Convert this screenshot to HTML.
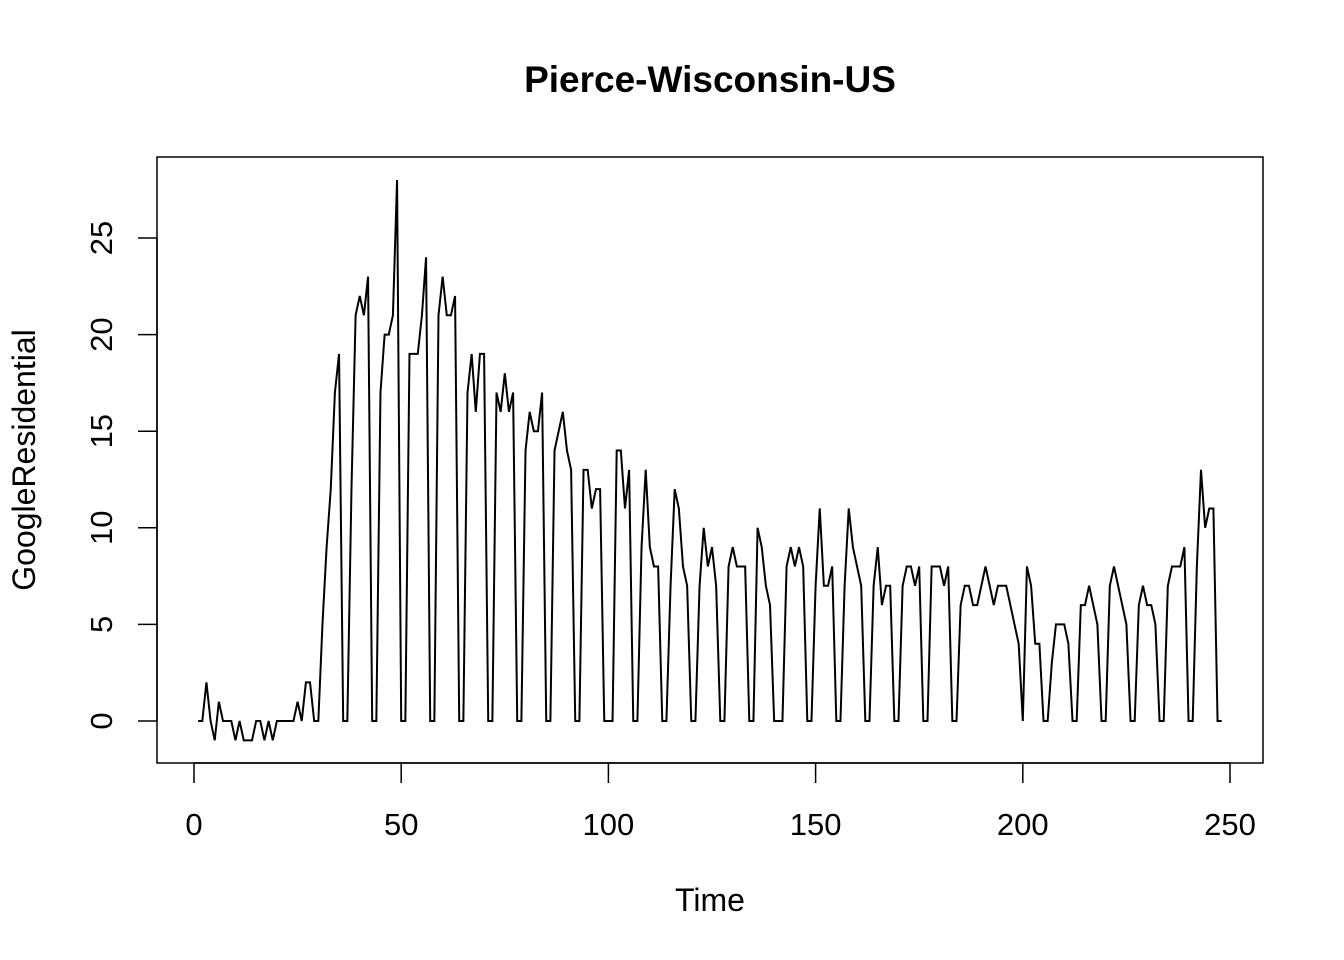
<!DOCTYPE html>
<html><head><meta charset="utf-8"><style>
html,body{margin:0;padding:0;background:#fff}
svg{display:block;font-family:"Liberation Sans",Arial,sans-serif}
</style></head><body>
<svg id="chart" width="1344" height="960" viewBox="0 0 1344 960">
<text x="710" y="92" text-anchor="middle" font-size="37" font-weight="bold">Pierce-Wisconsin-US</text>
<rect x="157" y="157" width="1106" height="606" fill="none" stroke="#000" stroke-width="1.5"/>
<g id="xaxis"></g>
<g id="yaxis"></g>
<text x="710" y="911" text-anchor="middle" font-size="32">Time</text>
<text transform="translate(35,460) rotate(-90)" text-anchor="middle" font-size="32">GoogleResidential</text>
<path id="series" fill="none" stroke="#000" stroke-width="2"/>
</svg>
<script>
const xTicks=[0,50,100,150,200,250];
const yTicks=[0,5,10,15,20,25];
const values=[0,0,2,0,-1,1,0,0,0,-1,0,-1,-1,-1,0,0,-1,0,-1,0,0,0,0,0,1,0,2,2,0,0,
5,9,12,17,19,0,0,12,21,22,21,23,0,0,17,20,20,21,28,0,0,19,19,19,21,24,0,0,21,23,
21,21,22,0,0,17,19,16,19,19,0,0,17,16,18,16,17,0,0,14,16,15,15,17,0,0,14,15,16,14,
13,0,0,13,13,11,12,12,0,0,0,14,14,11,13,0,0,9,13,9,8,8,0,0,7,12,11,8,7,0,0,7,10,8,
9,7,0,0,8,9,8,8,8,0,0,10,9,7,6,0,0,0,8,9,8,9,8,0,0,7,11,7,7,8,0,0,7,11,9,8,7,0,0,
7,9,6,7,7,0,0,7,8,8,7,8,0,0,8,8,8,7,8,0,0,6,7,7,6,6,7,8,7,6,7,7,7,6,5,4,0,8,7,4,4,
0,0,3,5,5,5,4,0,0,6,6,7,6,5,0,0,7,8,7,6,5,0,0,6,7,6,6,5,0,0,7,8,8,8,9,0,0,8,13,10,
11,11,0,0];
const NS='http://www.w3.org/2000/svg';
const xs=t=>194+t*(1230-194)/250;
const ys=v=>721-v*(721-238)/25;
const xg=document.getElementById('xaxis'), yg=document.getElementById('yaxis');
function mk(tag,attrs,parent){const e=document.createElementNS(NS,tag);for(const k in attrs)e.setAttribute(k,attrs[k]);parent.appendChild(e);return e;}
mk('line',{x1:xs(xTicks[0]),x2:xs(xTicks[xTicks.length-1]),y1:763,y2:763,stroke:'#000','stroke-width':1.5},xg);
xTicks.forEach(t=>{
  const l=mk('line',{x1:xs(t),x2:xs(t),y1:763,y2:783,stroke:'#000','stroke-width':1.5},xg);
  
  
  const tx=mk('text',{x:xs(t),y:835,'text-anchor':'middle','font-size':31},xg);
  tx.textContent=t;
  
  
});
mk('line',{x1:157,x2:157,y1:ys(yTicks[0]),y2:ys(yTicks[yTicks.length-1]),stroke:'#000','stroke-width':1.5},yg);
yTicks.forEach(v=>{
  const l=mk('line',{x1:138,x2:157,y1:ys(v),y2:ys(v),stroke:'#000','stroke-width':1.5},yg);
  
  
  const tx=mk('text',{transform:`translate(112,${ys(v)}) rotate(-90)`,'text-anchor':'middle','font-size':31},yg);
  tx.textContent=v;
  
  
});
document.getElementById('series').setAttribute('d',values.map((v,i)=>(i?'L':'M')+xs(i+1).toFixed(2)+','+ys(v).toFixed(2)).join(''));
</script>
</body></html>
